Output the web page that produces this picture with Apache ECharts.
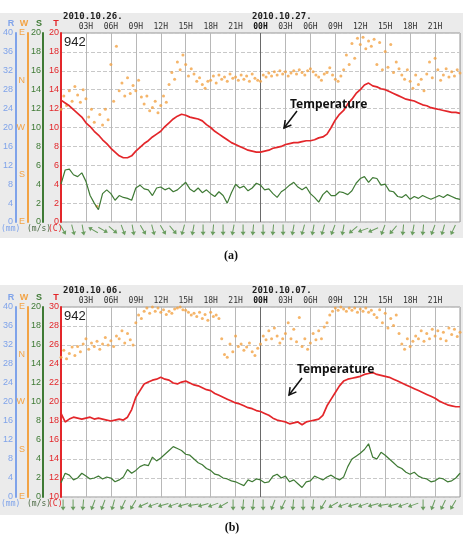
<!DOCTYPE html>
<html>
<head>
<meta charset="utf-8">
<script src="https://cdn.jsdelivr.net/npm/echarts@6/dist/echarts.min.js"></script>
<style>html,body{margin:0;padding:0;background:#fff}#main{width:463px;height:545px}</style>
</head>
<body>
<div id="main"></div>
<script>
// time axis in hours from 00H of the first day (48 h per panel)
var hourTicks = ['', '03H', '06H', '09H', '12H', '15H', '18H', '21H', '00H', '03H', '06H', '09H', '12H', '15H', '18H', '21H', ''];
var dirLabels = ['E', 'S', 'W', 'N', 'E'];
var datesA = ['2010.10.26.', '2010.10.27.'];
var datesB = ['2010.10.06.', '2010.10.07.'];

// (a) temperature, C, every 30 min
var tempA = [
  12.9,12.6, 12.3,11.9, 11.5,11.1, 10.5,10.1, 9.6,9.2, 8.7,8.3,
  7.8,7.4, 7.0,6.8, 6.8,7.0, 7.5,7.9, 8.3,8.6, 9.0,9.3,
  9.6,10.1, 10.5,10.9, 11.2,11.4, 11.3,11.1, 11.0,10.9, 10.7,10.3,
  10.0,9.6, 9.3,9.0, 8.7,8.4, 8.2,8.0, 7.8,7.6, 7.5,7.4,
  7.4,7.5, 7.6,7.8, 7.9,8.0, 8.2,8.3, 8.4,8.4, 8.5,8.6,
  8.6,8.7, 8.9,9.0, 9.3,10.0, 10.8,11.4, 11.8,12.5, 13.0,13.6,
  14.0,14.5, 14.7,14.4, 14.3,14.1, 14.0,13.8, 13.6,13.4, 13.2,13.0,
  12.9,12.8, 12.6,12.4, 12.3,12.1, 12.0,11.9, 11.8,11.7, 11.6,11.6,
  11.5
];
// (a) wind speed, m/s, every 30 min
var speedA = [
  4.0,5.5, 5.6,5.0, 4.8,5.2, 4.3,2.8, 2.0,1.3, 3.0,3.4,
  3.0,2.3, 2.8,2.6, 2.5,2.3, 3.6,3.9, 3.5,3.4, 2.8,3.6,
  3.7,3.4, 3.6,3.2, 3.4,3.8, 4.2,3.5, 3.2,3.6, 3.1,3.4,
  3.0,2.7, 3.2,2.8, 2.0,3.1, 4.0,3.6, 3.8,3.3, 3.6,4.1,
  3.9,3.4, 3.5,3.0, 2.6,3.2, 3.5,3.9, 4.2,3.7, 3.4,3.7,
  3.0,2.6, 2.1,2.9, 3.3,2.8, 2.8,3.2, 3.1,2.9, 3.3,4.1,
  4.6,4.8, 4.2,4.7, 4.6,3.9, 4.0,3.3, 3.2,2.7, 2.6,2.9,
  2.4,2.7, 2.5,2.8, 2.6,2.4, 2.6,2.8, 2.6,2.9, 2.7,2.5,
  2.4
];
// (a) wind direction, degrees on the E-S-W-N-E scale, every 20 min
var dirA = [
  215,240,222, 250,230,258, 242,228,252, 235,200,215, 190,30,205, 185,215,195,
  300,230,335, 250,265,240, 275,245,260, 250,270,238, 225,240,212, 218,230,208,
  222,240,228, 262,285,272, 305,290,318, 300,278,292, 282,268,275, 262,255,268,
  270,278,265, 280,272,276, 268,282,274, 276,270,280, 272,278,268, 282,274,270,
  268,280,276, 284,278,286, 280,288,282, 286,278,284, 288,282,290, 285,280,288,
  292,286,280, 276,270,282, 285,294,280, 272,268,278, 290,318,300, 340,312,350,
  338,352,330, 345,335,348, 300,342,290, 325,295,338, 285,305,292, 280,272,290,
  268,255,280, 262,272,250, 282,305,275, 312,290,270, 280,292,276, 286,278,290,
  284
];
// (a) wind arrows, heading in degrees clockwise from up, every 1.2 h
var arrowA = [
  150,165,170,300,120,130,160,170,150,165,
  150,140,195,190,180,185,180,190,180,185,
  180,185,180,190,195,190,195,200,190,230,
  250,245,200,220,185,190,185,200,195,205
];

// (b)
var tempB = [
  18.8,17.9, 18.2,18.4, 18.3,18.2, 18.3,18.4, 18.2,18.3, 18.2,18.1,
  18.0,18.1, 18.2,18.1, 18.4,19.2, 20.5,21.2, 21.9,22.1, 22.3,22.4,
  22.6,22.4, 22.3,22.0, 21.9,22.1, 22.2,22.0, 21.8,21.7, 21.5,21.3,
  21.2,20.9, 20.7,20.5, 20.3,20.1, 19.9,19.8, 19.6,19.4, 19.3,19.1,
  19.0,18.8, 18.6,18.3, 18.1,18.0, 17.9,17.7, 17.8,17.9, 17.6,17.9,
  18.0,18.1, 18.2,18.6, 19.6,20.3, 21.0,21.7, 22.2,22.4, 22.5,22.6,
  22.7,22.9, 23.0,23.1, 22.9,22.8, 22.7,22.6, 22.4,22.2, 22.0,21.8,
  21.6,21.4, 21.2,21.0, 20.8,20.6, 20.4,20.1, 19.9,19.7, 19.6,19.5,
  19.5
];
var speedB = [
  1.5,2.5, 2.3,1.8, 2.0,2.5, 2.2,1.9, 2.0,2.2, 1.9,2.1,
  2.0,1.6, 1.8,2.1, 2.9,2.5, 2.8,3.2, 3.4,3.3, 4.2,3.8,
  4.1,4.5, 4.9,5.3, 5.1,4.9, 4.5,4.4, 4.0,3.6, 3.4,3.0,
  2.8,2.4, 2.3,2.0, 1.9,1.7, 1.6,1.4, 1.2,1.8, 1.6,1.9,
  1.8,1.5, 1.6,2.2, 2.4,2.0, 2.2,1.6, 1.8,1.4, 1.0,1.6,
  1.7,2.2, 2.0,1.8, 2.1,2.3, 2.0,1.8, 2.1,3.2, 4.0,4.3,
  4.6,5.0, 5.6,4.2, 4.0,4.7, 4.4,4.0, 3.6,3.2, 3.0,2.6,
  2.4,2.6, 2.2,2.0, 1.9,1.6, 1.7,2.0, 1.9,1.6, 1.7,2.0,
  2.5
];
var dirB = [
  265,278,262, 272,284,268, 285,275,290, 300,280,292, 285,295,280, 290,302,288,
  296,285,305, 300,315,292, 310,298,288, 330,345,338, 352,358,348, 360,352,358,
  350,355,346, 352,348,356, 358,360,355, 354,350,345, 348,342,350, 338,346,335,
  350,342,345, 338,300,270, 265,290,275, 305,285,290, 278,284,292, 275,268,282,
  290,305,298, 315,300,320, 305,292,300, 310,330,300, 318,294,340, 285,300,280,
  292,310,298, 315,300,322, 330,345,352, 358,354,360, 356,352,358, 354,358,350,
  356,352,358, 350,354,346, 340,355,330, 348,320,338, 325,345,310, 290,280,300,
  285,295,305, 300,315,295, 310,300,318, 305,315,300, 312,296,320, 308,318,304,
  312
];
var arrowB = [
  180,180,185,200,200,195,205,210,245,250,
  255,250,255,260,255,250,240,180,185,185,
  180,200,205,185,180,185,210,240,250,255,
  250,255,260,255,250,250,180,200,205,210
];

var cR = '#7fa3ea', cW = '#f2a345', cS = '#3f7a35', cT = '#e3262a';
var splitColors = [];
for (var i = 0; i <= 16; i++) splitColors.push(i === 8 ? '#6a6a6a' : '#b8b8b8');

function pairs(arr, step) {
  return arr.map(function (v, i) { return [i * step, v]; });
}
function arrows(arr) {
  return arr.map(function (h, i) { return { value: [0.25 + 1.2 * i, 0.5], symbolRotate: -h }; });
}
function xTop(g) {
  return {
    gridIndex: g, type: 'value', min: 0, max: 48, interval: 3, position: 'top',
    axisLine: { show: false }, axisTick: { show: false },
    axisLabel: {
      margin: 2, fontSize: 8, fontFamily: 'DejaVu Sans Mono', color: '#333',
      formatter: function (v) {
        var s = hourTicks[Math.round(v / 3)];
        return v === 24 ? '{b|' + s + '}' : s;
      },
      rich: { b: { fontSize: 8, fontWeight: 'bold', fontFamily: 'DejaVu Sans Mono', color: '#111' } }
    },
    splitLine: { show: true, lineStyle: { color: splitColors, width: 1 } }
  };
}
function xHidden(g) {
  return { gridIndex: g, type: 'value', min: 0, max: 48, show: false };
}
function yAx(g, min, max, interval, offset, color, margin, split, fmt) {
  return {
    gridIndex: g, type: 'value', min: min, max: max, interval: interval,
    position: 'left', offset: offset,
    axisLine: { show: true, lineStyle: { color: color, width: 2 } },
    axisTick: { show: false },
    axisLabel: { color: color, fontSize: 9, fontFamily: 'Liberation Sans', margin: margin, formatter: fmt },
    splitLine: { show: split, lineStyle: { type: 'dashed', color: '#c8c8c8' } }
  };
}
function yHidden(g) {
  return { gridIndex: g, type: 'value', min: 0, max: 1, show: false };
}
var dirFmt = function (v) { return dirLabels[Math.round(v / 90)]; };

function txt(x, y, s, color, font, align) {
  return {
    type: 'text', x: x, y: y, z: 50,
    style: { text: s, fill: color, font: font, textAlign: align || 'left', align: align || 'left',
      textVerticalAlign: 'middle', verticalAlign: 'middle' }
  };
}
function panelTexts(top, bottom, dates) {
  var mono = 'bold 9px "DejaVu Sans Mono"';
  return [
    txt(63, top - 16, dates[0], '#222', mono),
    txt(252, top - 16, dates[1], '#222', mono),
    txt(11, top - 9, 'R', cR, 'bold 9px "Liberation Sans"', 'center'),
    txt(24, top - 9, 'W', cW, 'bold 9px "Liberation Sans"', 'center'),
    txt(39, top - 9, 'S', cS, 'bold 9px "Liberation Sans"', 'center'),
    txt(56, top - 9, 'T', cT, 'bold 9px "Liberation Sans"', 'center'),
    txt(1, bottom + 7, '(mm)', cR, '8px "DejaVu Sans Mono"'),
    txt(27, bottom + 7, '(m/s)', '#4d6b45', '8px "DejaVu Sans Mono"'),
    txt(48, bottom + 7, '(C)', cT, '8px "DejaVu Sans Mono"'),
    txt(64, top + 9, '942', '#222', '13px "Liberation Sans"')
  ];
}
function pointer(pts, line) {
  return [
    { type: 'line', z: 50, shape: { x1: line[0], y1: line[1], x2: line[2], y2: line[3] }, style: { stroke: '#111', lineWidth: 1.5 } },
    { type: 'polyline', z: 50, shape: { points: pts }, style: { stroke: '#111', lineWidth: 1.5, fill: null } }
  ];
}

var arrowPath = 'path://M3,0 L6,4 L3.6,4 L3.6,12 L2.4,12 L2.4,4 L0,4 Z';
var graphics = [
  { type: 'rect', z: 40, shape: { x: 0, y: 0, width: 463, height: 13 }, style: { fill: '#fff' } },
  { type: 'rect', z: 40, shape: { x: 0, y: 238, width: 463, height: 47 }, style: { fill: '#fff' } },
  { type: 'rect', z: 40, shape: { x: 0, y: 515, width: 463, height: 30 }, style: { fill: '#fff' } },
  txt(231, 256, '(a)', '#111', 'bold 12px "Liberation Serif"', 'center'),
  txt(232, 528, '(b)', '#111', 'bold 12px "Liberation Serif"', 'center'),
  txt(290, 105, 'Temperature', '#111', 'bold 12px "Noto Sans"'),
  txt(297, 370, 'Temperature', '#111', 'bold 12px "Noto Sans"')
].concat(panelTexts(33, 222, datesA), panelTexts(307, 497, datesB),
  pointer([[285.2, 120], [284, 128], [291.4, 125]], [297, 111, 284, 128]),
  pointer([[290.1, 387.1], [289, 395], [296.4, 391.9]], [302, 378, 289, 395]));

var chart = echarts.init(document.getElementById('main'));
chart.setOption({
  animation: false,
  backgroundColor: '#ebebeb',
  grid: [
    { left: 61, top: 33, width: 400, height: 189, show: true, backgroundColor: '#fff', borderColor: '#999', borderWidth: 1 },
    { left: 61, top: 223, width: 400, height: 14 },
    { left: 61, top: 307, width: 400, height: 190, show: true, backgroundColor: '#fff', borderColor: '#999', borderWidth: 1 },
    { left: 61, top: 498, width: 400, height: 14 }
  ],
  xAxis: [xTop(0), xHidden(1), xTop(2), xHidden(3)],
  yAxis: [
    yAx(0, 0, 20, 2, 0, cT, 2, true),
    yAx(0, 0, 20, 2, 18, cS, 2, false),
    yAx(0, 0, 360, 90, 33, cW, 3, false, dirFmt),
    yAx(0, 0, 40, 4, 45, cR, 3, false),
    yHidden(1),
    yAx(2, 10, 30, 2, 0, cT, 2, true),
    yAx(2, 0, 20, 2, 18, cS, 2, false),
    yAx(2, 0, 360, 90, 33, cW, 3, false, dirFmt),
    yAx(2, 0, 40, 4, 45, cR, 3, false),
    yHidden(3)
  ],
  series: [
    { type: 'scatter', xAxisIndex: 0, yAxisIndex: 2, data: pairs(dirA, 1 / 3), symbolSize: 3, itemStyle: { color: cW } },
    { type: 'line', xAxisIndex: 0, yAxisIndex: 0, data: pairs(tempA, 0.5), showSymbol: false, lineStyle: { color: cT, width: 1.7 } },
    { type: 'line', xAxisIndex: 0, yAxisIndex: 1, data: pairs(speedA, 0.5), showSymbol: false, lineStyle: { color: cS, width: 1.2 } },
    { type: 'scatter', xAxisIndex: 1, yAxisIndex: 4, data: arrows(arrowA), symbol: arrowPath, symbolSize: [5, 11], itemStyle: { color: '#4a8a3c' } },
    { type: 'scatter', xAxisIndex: 2, yAxisIndex: 7, data: pairs(dirB, 1 / 3), symbolSize: 3, itemStyle: { color: cW } },
    { type: 'line', xAxisIndex: 2, yAxisIndex: 5, data: pairs(tempB, 0.5), showSymbol: false, lineStyle: { color: cT, width: 1.7 } },
    { type: 'line', xAxisIndex: 2, yAxisIndex: 6, data: pairs(speedB, 0.5), showSymbol: false, lineStyle: { color: cS, width: 1.2 } },
    { type: 'scatter', xAxisIndex: 3, yAxisIndex: 9, data: arrows(arrowB), symbol: arrowPath, symbolSize: [5, 11], itemStyle: { color: '#4a8a3c' } }
  ],
  graphic: graphics
});
</script>
</body>
</html>
